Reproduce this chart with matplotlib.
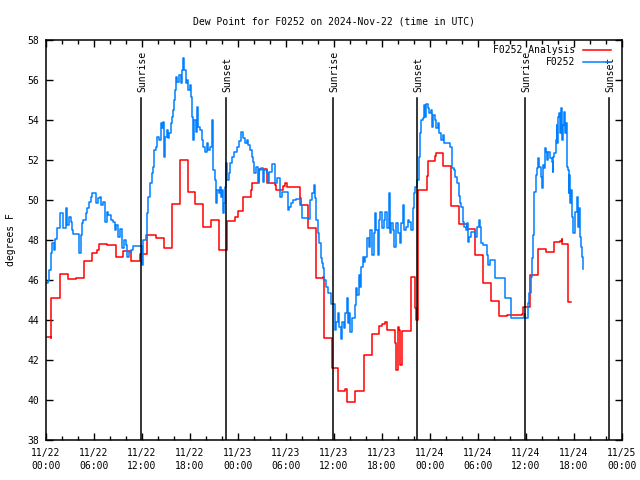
import datetime as dt
import matplotlib
matplotlib.use("Agg")
import matplotlib.pyplot as plt
from matplotlib.ticker import MultipleLocator

# hours since 2024-11-22 00:00 UTC
analysis_hours = [0.08, 0.6, 0.65, 1.7, 1.8, 2.7, 3.75, 4.7, 5.7, 6.4, 6.6, 7.65, 8.75,
                  9.67, 10.67, 11.75, 12.6, 13.7, 14.7, 15.7, 16.75, 17.8, 18.6, 19.6,
                  20.6, 21.6, 22.6, 23.6, 24.0, 24.65, 25.6, 25.75, 26.6, 27.6, 28.6,
                  28.7, 29.6, 29.92, 30.08, 31.7, 31.9, 32.7, 33.75, 34.67, 34.75, 35.7,
                  36.55, 37.4, 37.6, 38.6, 39.7, 40.75, 41.6, 42.0, 42.4, 42.6, 43.67,
                  43.8, 43.96, 44.15, 44.3, 44.5, 45.63, 46.17, 46.3, 46.46, 47.6, 47.8,
                  48.6, 48.75, 49.6, 50.67, 51.6, 52.6, 53.67, 54.6, 55.67, 56.67, 57.6,
                  59.5, 59.66, 60.5, 61.5, 62.5, 63.5, 64.3, 64.5, 64.55, 65.2, 65.6]
analysis_vals = [43.15, 43.1, 45.1, 45.7, 46.3, 46.05, 46.1, 46.95, 47.35, 47.5, 47.78, 47.73, 47.15,
                 47.43, 46.95, 47.28, 48.25, 48.08, 47.58, 49.8, 52.0, 50.38, 49.8, 48.63,
                 49.0, 47.5, 48.95, 49.17, 49.45, 50.13, 50.5, 50.83, 51.53, 50.83, 50.75,
                 50.5, 50.72, 50.83, 50.67, 50.08, 49.75, 48.58, 46.08, 46.17, 43.08, 41.6,
                 40.47, 40.53, 39.92, 40.47, 42.25, 43.3, 43.7, 43.8, 43.92, 43.5, 42.85,
                 41.5, 43.67, 43.5, 41.75, 43.45, 46.13, 44.6, 44.0, 50.5, 51.2, 51.95,
                 52.2, 52.33, 51.7, 49.7, 48.78, 48.53, 47.25, 45.87, 44.97, 44.2, 44.25,
                 44.3, 44.67, 46.25, 47.53, 47.42, 47.88, 47.97, 48.05, 47.8, 44.92, 44.92]

obs_hours = [0.09, 0.19, 0.38, 0.59, 0.79, 0.94, 1.13, 1.41, 1.71, 2.04, 2.16, 2.46, 2.66,
             2.88, 3.09, 3.29, 3.41, 4.04, 4.13, 4.34, 4.54, 4.66, 4.96, 5.16, 5.38, 5.59,
             5.79, 6.09, 6.21, 6.5, 6.75, 6.91, 7.16, 7.38, 7.59, 7.79, 8.09, 8.38, 8.59,
             8.79, 9.0, 9.25, 9.46, 9.54, 9.75, 9.96, 10.16, 10.38, 10.66, 10.91, 11.91,
             12.04, 12.16, 12.5, 12.66, 12.79, 13.0, 13.21, 13.34, 13.5, 13.71, 13.91,
             14.13, 14.34, 14.46, 14.59, 14.75, 14.88, 15.09, 15.29, 15.41, 15.59, 15.71,
             15.84, 16.0, 16.13, 16.25, 16.41, 16.63, 16.84, 17.04, 17.16, 17.29, 17.46,
             17.59, 17.79, 18.0, 18.13, 18.21, 18.34, 18.5, 18.71, 18.91, 19.04, 19.25,
             19.46, 19.66, 19.88, 20.09, 20.29, 20.5, 20.71, 20.84, 20.91, 21.13, 21.25,
             21.41, 21.63, 21.75, 21.88, 22.04, 22.16, 22.29, 22.38, 22.5, 22.66, 22.84,
             23.0, 23.21, 23.5, 23.84, 24.16, 24.38, 24.66, 24.88, 25.09, 25.29, 25.5,
             25.71, 25.91, 26.04, 26.25, 26.46, 26.66, 26.88, 27.09, 27.29, 27.59, 27.71,
             27.91, 28.21, 28.54, 28.66, 28.88, 29.16, 29.29, 29.46, 30.0, 30.21, 30.41,
             30.63, 30.91, 31.25, 31.79, 32.0, 32.71, 33.0, 33.21, 33.46, 33.63, 33.75,
             33.96, 34.16, 34.38, 34.5, 34.66, 34.79, 35.0, 35.21, 35.63, 35.96, 36.09,
             36.25, 36.5, 36.66, 36.88, 37.0, 37.21, 37.41, 37.63, 37.75, 37.91, 38.04,
             38.25, 38.46, 38.59, 38.75, 38.88, 39.09, 39.29, 39.41, 39.59, 39.79, 39.91,
             40.13, 40.34, 40.54, 40.75, 40.96, 41.16, 41.29, 41.46, 41.59, 41.79, 42.0,
             42.21, 42.41, 42.63, 42.84, 42.96, 43.16, 43.38, 43.54, 43.75, 43.96, 44.21,
             44.38, 44.59, 44.71, 45.0, 45.21, 45.41, 45.63, 45.84, 45.96, 46.16, 46.38,
             46.66, 46.79, 46.91, 47.09, 47.21, 47.34, 47.5, 47.71, 47.91, 48.13, 48.25,
             48.38, 48.59, 48.75, 48.96, 49.16, 49.38, 49.59, 49.71, 50.54, 50.75, 50.96,
             51.16, 51.38, 51.59, 51.71, 51.91, 52.09, 52.29, 52.5, 52.63, 52.75, 52.91,
             53.13, 53.66, 53.88, 54.09, 54.29, 54.41, 54.63, 55.13, 55.25, 55.46, 56.16,
             57.34, 58.16, 59.71, 59.91, 60.25, 60.41, 60.59, 60.79, 60.91, 61.04, 61.21,
             61.41, 61.54, 61.66, 61.84, 61.96, 62.09, 62.25, 62.38, 62.5, 62.66, 62.79,
             63.0, 63.21, 63.34, 63.41, 63.54, 63.71, 63.84, 63.91, 64.04, 64.16, 64.25,
             64.34, 64.46, 64.59, 64.79, 64.88, 65.0, 65.09, 65.21, 65.34, 65.41, 65.5,
             65.63, 65.79, 65.91, 66.13, 66.34, 66.46, 66.59, 66.75, 66.88, 66.96, 67.09,
             67.16]
obs_vals = [45.83, 45.95, 46.5, 47.33, 47.83, 47.5, 48.03, 48.58, 49.33, 49.37, 48.6, 49.58, 48.75,
            49.17, 48.92, 48.5, 48.3, 48.3, 47.33, 48.25, 48.83, 49.0, 49.33, 49.58, 49.92, 50.17,
            50.33, 50.33, 49.83, 50.08, 50.17, 49.75, 49.92, 48.92, 49.42, 49.25, 49.0, 48.92, 48.5,
            48.75, 48.17, 48.53, 48.0, 47.58, 48.0, 47.75, 47.17, 47.42, 47.5, 47.7, 47.7,
            46.75, 48.0, 48.25, 49.33, 50.17, 50.83, 51.33, 51.67, 52.5, 52.67, 53.17,
            53.0, 53.83, 53.58, 53.92, 52.17, 53.17, 53.5, 53.08, 53.33, 53.83, 54.17,
            54.5, 55.0, 55.5, 56.17, 55.92, 56.25, 55.83, 56.5, 57.08, 56.5, 55.83,
            56.0, 55.5, 55.75, 55.17, 54.17, 53.0, 54.0, 53.42, 54.67, 53.67, 53.5,
            53.0, 52.67, 52.42, 52.83, 52.5, 52.67, 54.0, 52.0, 51.5, 51.0, 49.83,
            50.5, 50.33, 50.67, 50.17, 50.5, 49.33, 49.83, 50.67, 51.83, 51.0, 51.33,
            51.83, 52.17, 52.42, 52.67, 52.97, 53.42, 53.08, 52.83, 53.0, 52.75, 52.5,
            52.17, 51.92, 51.33, 51.67, 50.92, 51.5, 51.58, 50.92, 51.5, 51.33, 50.92,
            51.42, 51.78, 51.78, 50.83, 51.08, 51.08, 50.17, 50.42, 50.42, 49.5, 49.63,
            49.83, 50.0, 50.05, 49.75, 49.08, 49.03, 50.0, 50.33, 50.75, 50.08, 49.0,
            48.33, 47.83, 47.08, 46.83, 46.58, 46.0, 45.67, 45.33, 44.8, 44.8, 43.5,
            43.92, 44.33, 43.67, 43.03, 43.92, 43.58, 44.33, 45.08, 43.83, 44.33, 43.42,
            44.08, 44.08, 44.75, 45.58, 45.25, 46.25, 45.67, 46.67, 47.17, 46.92, 47.17,
            48.08, 47.67, 48.5, 47.25, 48.33, 49.33, 48.5, 47.25, 49.0, 49.42, 48.58,
            49.0, 49.42, 48.58, 50.33, 48.33, 48.83, 48.5, 47.67, 48.83, 48.33, 47.83,
            48.83, 49.75, 48.5, 48.67, 49.0, 48.92, 48.5, 49.58, 50.33, 50.67, 51.0,
            52.17, 53.33, 54.0, 54.08, 54.75, 54.17, 54.8, 54.58, 54.33, 54.5, 53.67,
            54.25, 54.0, 53.58, 53.83, 53.33, 53.0, 53.25, 52.87, 52.67, 51.58, 51.5,
            51.17, 50.83, 50.2, 49.83, 49.67, 48.92, 48.67, 48.5, 48.83, 47.92, 48.17,
            48.42, 48.17, 48.67, 49.0, 48.67, 47.83, 47.75, 47.25, 46.75, 47.0, 46.08,
            45.08, 44.08, 44.3, 44.08, 44.83, 45.33, 46.17, 47.08, 48.25, 50.42, 51.25,
            51.58, 52.08, 51.67, 51.17, 50.58, 51.75, 51.58, 52.58, 52.42, 52.0, 52.42,
            52.08, 51.92, 51.42, 52.17, 52.33, 53.0, 53.75, 52.83, 54.17, 54.33, 53.33,
            54.58, 53.0, 53.75, 54.42, 53.33, 53.83, 51.67, 51.5, 50.33, 51.25, 49.83,
            50.5, 49.17, 48.33, 49.42, 50.17, 48.67, 49.58, 48.17, 47.67, 47.17, 46.83,
            46.53]

sun_hours = [11.91, 22.54, 35.91, 46.41, 59.91, 70.41]
sun_labels = ["Sunrise", "Sunset", "Sunrise", "Sunset", "Sunrise", "Sunset"]

start = dt.datetime(2024, 11, 22, 0, 0)
tick_hours = list(range(0, 73, 6))
tick_labels = [(start + dt.timedelta(hours=h)).strftime("%m/%d\n%H:%M") for h in tick_hours]

plt.rcParams['font.family'] = 'DejaVu Sans Mono'
plt.rcParams['font.size'] = 7

fig = plt.figure(figsize=(6.4, 4.8), dpi=100)
ax = fig.add_axes([46 / 640, 40 / 480, 576 / 640, 400 / 480])

ax.plot(analysis_hours, analysis_vals, drawstyle='steps-post', color='#ff0000', lw=1.1,
        label='F0252 Analysis')
ax.plot(obs_hours, obs_vals, drawstyle='steps-post', color='#0080ff', lw=1.1, label='F0252')

# sunrise / sunset markers
for h, lab in zip(sun_hours, sun_labels):
    ax.plot([h, h], [38, 55.1], color='black', lw=1.1)
    ax.text(h + 0.1, 55.4, lab, rotation=90, ha='center', va='bottom')

ax.set_xlim(0, 72)
ax.set_ylim(38, 58)
ax.set_xticks(tick_hours)
ax.set_xticklabels(tick_labels, linespacing=1.35)
ax.xaxis.set_minor_locator(MultipleLocator(2))
ax.yaxis.set_major_locator(MultipleLocator(2))
ax.tick_params(which='both', direction='in', top=True, right=True, width=1.0)
ax.tick_params(which='major', length=5)
ax.tick_params(which='minor', length=3)
ax.tick_params(axis='x', pad=6)
ax.tick_params(axis='y', pad=5)
for s in ax.spines.values():
    s.set_linewidth(1.1)

ax.set_ylabel('degrees F', labelpad=8)
ax.set_title('Dew Point for F0252 on 2024-Nov-22 (time in UTC)', fontsize=7, pad=11)
ax.legend(loc='upper right', bbox_to_anchor=(611 / 640, 1 - 45 / 480),
          bbox_transform=fig.transFigure, frameon=False, markerfirst=False,
          handlelength=2.9, handletextpad=0.8, borderpad=0, borderaxespad=0,
          labelspacing=0.25)

fig.savefig('out.png', dpi=100)
